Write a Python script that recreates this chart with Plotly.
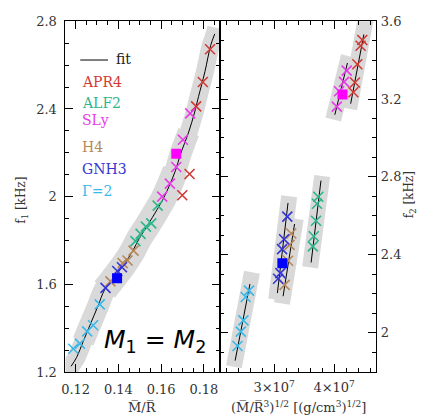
import plotly.graph_objects as go

# ---------------- data: left panel, f1 vs compactness M/R ----------------
eos_names = ["APR4", "ALF2", "SLy", "H4", "GNH3", "Γ=2"]
eos_colors = ["#d23a36", "#2fb58c", "#e83be8", "#b8875a", "#3535d6", "#3ab8e8"]

c_APR4 = [0.1829, 0.1795, 0.1764, 0.1733, 0.1699]
f1_APR4 = [2.672, 2.523, 2.412, 2.104, 2.007]
c_ALF2 = [0.1584, 0.1554, 0.1529, 0.1504, 0.1480]
f1_ALF2 = [1.960, 1.879, 1.864, 1.831, 1.798]
c_SLy = [0.1736, 0.1702, 0.1671, 0.1641, 0.1605]
f1_SLy = [2.380, 2.260, 2.136, 2.060, 2.001]
c_H4 = [0.1471, 0.1443, 0.1420, 0.1363]
f1_H4 = [1.755, 1.710, 1.698, 1.615]
c_GNH3 = [0.1417, 0.1395, 0.1340]
f1_GNH3 = [1.679, 1.662, 1.585]
c_G2 = [0.1313, 0.1282, 0.1254, 0.1220, 0.1189]
f1_G2 = [1.510, 1.415, 1.387, 1.331, 1.308]

# unequal-mass (square) points
c_sq = [0.1671, 0.1394]
f1_sq = [2.196, 1.629]
sq_colors = ["#ff00ff", "#0000ff"]

# universal fit f1(M/R)
fit_c = [0.1179, 0.1205, 0.1236, 0.1267, 0.1305, 0.1336, 0.1389, 0.1428,
         0.1467, 0.1498, 0.1536, 0.1582, 0.1608, 0.1636, 0.1667, 0.1690,
         0.1729, 0.1756, 0.1775, 0.1805, 0.1832, 0.1851]
fit_f1 = [1.228, 1.269, 1.342, 1.415, 1.503, 1.577, 1.643, 1.694,
          1.753, 1.811, 1.869, 1.943, 1.987, 2.045, 2.119, 2.192,
          2.295, 2.382, 2.456, 2.570, 2.690, 2.742]
# grey uncertainty band following the fit (wider through the middle)
band_c = [0.1160] + fit_c + [0.1858]
band_f1 = [1.180] + fit_f1 + [2.770]
band_mid_c = fit_c[2:17]
band_mid_f1 = fit_f1[2:17]
band_core_c = fit_c[5:15]
band_core_f1 = fit_f1[5:15]

# ---------------- data: right panel, f2 vs sqrt(M/R^3) ----------------
rho_APR4 = [4.469e7, 4.440e7, 4.386e7, 4.346e7, 4.320e7]
f2_APR4 = [3.503, 3.474, 3.379, 3.285, 3.235]
rho_ALF2 = [3.736e7, 3.714e7, 3.698e7, 3.660e7, 3.644e7]
f2_ALF2 = [2.698, 2.662, 2.575, 2.495, 2.443]
rho_SLy = [4.209e7, 4.165e7, 4.082e7, 4.044e7]
f2_SLy = [3.346, 3.288, 3.240, 3.161]
rho_H4 = [3.285e7, 3.257e7, 3.231e7, 3.175e7]
f2_H4 = [2.509, 2.451, 2.369, 2.245]
rho_GNH3 = [3.219e7, 3.165e7, 3.132e7, 3.104e7, 3.066e7]
f2_GNH3 = [2.596, 2.480, 2.429, 2.306, 2.277]
rho_G2 = [2.581e7, 2.526e7, 2.488e7, 2.444e7, 2.390e7]
f2_G2 = [2.216, 2.183, 2.063, 2.005, 1.931]

rho_sq = [4.139e7, 3.137e7]
f2_sq = [3.223, 2.357]

# per-EOS linear fits (end points) and their bands
line_rho = {"APR4": [4.275e7, 4.495e7], "ALF2": [3.616e7, 3.780e7],
            "SLy": [4.011e7, 4.221e7], "H4": [3.149e7, 3.340e7],
            "GNH3": [3.054e7, 3.231e7], "Γ=2": [2.350e7, 2.597e7]}
line_f2 = {"APR4": [3.176, 3.532], "ALF2": [2.360, 2.781],
           "SLy": [3.119, 3.385], "H4": [2.187, 2.558],
           "GNH3": [2.203, 2.666], "Γ=2": [1.856, 2.250]}
band_rho = {"APR4": [4.250e7, 4.530e7], "ALF2": [3.600e7, 3.800e7],
            "SLy": [3.985e7, 4.245e7], "H4": [3.130e7, 3.360e7],
            "GNH3": [3.035e7, 3.250e7], "Γ=2": [2.330e7, 2.630e7]}
band_f2 = {"APR4": [3.150, 3.620], "ALF2": [2.335, 2.805],
           "SLy": [3.095, 3.420], "H4": [2.150, 2.585],
           "GNH3": [2.170, 2.700], "Γ=2": [1.825, 2.310]}

x_ticks_left = [0.12, 0.14, 0.16, 0.18]
x_ticks_right = [3e7, 4e7]
x_ticktext_right = ["3×10<sup>7</sup>", "4×10<sup>7</sup>"]

left_sets = [(c_APR4, f1_APR4), (c_ALF2, f1_ALF2), (c_SLy, f1_SLy),
             (c_H4, f1_H4), (c_GNH3, f1_GNH3), (c_G2, f1_G2)]
right_sets = [(rho_APR4, f2_APR4), (rho_ALF2, f2_ALF2), (rho_SLy, f2_SLy),
              (rho_H4, f2_H4), (rho_GNH3, f2_GNH3), (rho_G2, f2_G2)]

W, H = 426, 419
BAND = "#d9d9d9"
SERIF = "DejaVu Serif"

fig = go.Figure()

# left panel: band (layered widths), fit, points
for bx, by, bw in [(band_c, band_f1, 18), (band_mid_c, band_mid_f1, 22),
                   (band_core_c, band_core_f1, 26)]:
    fig.add_trace(go.Scatter(x=bx, y=by, mode="lines", line_shape="spline",
                             line=dict(color=BAND, width=bw), hoverinfo="skip",
                             xaxis="x", yaxis="y", showlegend=False))
fig.add_trace(go.Scatter(x=fit_c, y=fit_f1, mode="lines", line_shape="spline",
                         line=dict(color="black", width=1),
                         xaxis="x", yaxis="y", showlegend=False))
for (xs, ys), col in zip(left_sets, eos_colors):
    fig.add_trace(go.Scatter(x=xs, y=ys, mode="markers",
                             marker=dict(symbol="x-thin", size=10,
                                         line=dict(color=col, width=1.6)),
                             xaxis="x", yaxis="y", showlegend=False))
fig.add_trace(go.Scatter(x=c_sq, y=f1_sq, mode="markers",
                         marker=dict(symbol="square", size=10, color=sq_colors),
                         xaxis="x", yaxis="y", showlegend=False))

# right panel: bands, fits, points
for name in eos_names:
    fig.add_trace(go.Scatter(x=band_rho[name], y=band_f2[name], mode="lines",
                             line=dict(color=BAND, width=16), hoverinfo="skip",
                             xaxis="x2", yaxis="y2", showlegend=False))
for name in eos_names:
    fig.add_trace(go.Scatter(x=line_rho[name], y=line_f2[name], mode="lines",
                             line=dict(color="black", width=1),
                             xaxis="x2", yaxis="y2", showlegend=False))
for (xs, ys), col in zip(right_sets, eos_colors):
    fig.add_trace(go.Scatter(x=xs, y=ys, mode="markers",
                             marker=dict(symbol="x-thin", size=10,
                                         line=dict(color=col, width=1.6)),
                             xaxis="x2", yaxis="y2", showlegend=False))
fig.add_trace(go.Scatter(x=rho_sq, y=f2_sq, mode="markers",
                         marker=dict(symbol="square", size=10, color=sq_colors),
                         xaxis="x2", yaxis="y2", showlegend=False))

tickfont = dict(family=SERIF, size=13, color="#333333")
common = dict(showgrid=False, zeroline=False, showline=True, linecolor="black",
              linewidth=1, mirror="allticks", ticks="inside", ticklen=8,
              tickcolor="black", tickwidth=1, tickfont=tickfont)

def px_x(p):
    return p / W

def px_y(p):
    return 1 - p / H

fig.update_layout(
    width=W, height=H, autosize=False,
    margin=dict(l=0, r=0, t=0, b=0),
    paper_bgcolor="white", plot_bgcolor="white",
    xaxis=dict(domain=[62 / W, 218 / W], range=[0.11524, 0.18753],
               tickvals=x_ticks_left, tickformat=".2f", ticklabelstandoff=5,
               minor=dict(dtick=0.005, tick0=0, ticks="inside", ticklen=4,
                          tickcolor="black", showgrid=False),
               anchor="y", **common),
    yaxis=dict(domain=[1 - 379 / H, 1 - 14.7 / H], range=[1.2, 2.8],
               tick0=1.2, dtick=0.4, tickformat="~g", ticklabelstandoff=5,
               minor=dict(dtick=0.1, tick0=1.2, ticks="inside", ticklen=4,
                          tickcolor="black", showgrid=False),
               anchor="x", **common),
    xaxis2=dict(domain=[218 / W, 375.7 / W], range=[2.097e7, 4.70e7],
                tickvals=x_ticks_right, ticktext=x_ticktext_right,
                ticklabelstandoff=3,
                minor=dict(dtick=2e6, tick0=0, ticks="inside", ticklen=4,
                           tickcolor="black", showgrid=False),
                anchor="y2", **common),
    yaxis2=dict(domain=[1 - 379 / H, 1 - 14.7 / H], range=[1.7955, 3.6],
                tick0=2.0, dtick=0.4, tickformat="~g", side="right",
                ticklabelstandoff=1,
                minor=dict(dtick=0.1, tick0=2.0, ticks="inside", ticklen=4,
                           tickcolor="black", showgrid=False),
                anchor="x2", **common),
)

ann = []
# legend
legend_y = [77.3, 99.3, 117.7, 145.7, 168.3, 191.0]
for name, col, py in zip(eos_names, eos_colors, legend_y):
    ann.append(dict(x=px_x(77), y=px_y(py), xref="paper", yref="paper",
                    text=name, showarrow=False, xanchor="left", yanchor="middle",
                    font=dict(family=SERIF, size=14, color=col)))
ann.append(dict(x=px_x(111), y=px_y(54), xref="paper", yref="paper",
                text="fit", showarrow=False, xanchor="left", yanchor="middle",
                font=dict(family=SERIF, size=14, color="#222222")))
# axis titles
ann.append(dict(x=px_x(18), y=px_y(200), xref="paper", yref="paper",
                text="f<sub>1</sub> [kHz]", showarrow=False, textangle=-90,
                xanchor="center", yanchor="middle",
                font=dict(family=SERIF, size=12, color="#333333")))
ann.append(dict(x=px_x(410), y=px_y(195), xref="paper", yref="paper",
                text="f<sub>2</sub> [kHz]", showarrow=False, textangle=-90,
                xanchor="center", yanchor="middle",
                font=dict(family=SERIF, size=12, color="#333333")))
ann.append(dict(x=px_x(140), y=px_y(415), xref="paper", yref="paper",
                text="M\u0305/R\u0305", showarrow=False,
                xanchor="center", yanchor="middle",
                font=dict(family=SERIF, size=13, color="#333333")))
ann.append(dict(x=px_x(297), y=px_y(415), xref="paper", yref="paper",
                text="(M\u0305/R\u0305<sup>3</sup>)<sup>1/2</sup> [(g/cm<sup>3</sup>)<sup>1/2</sup>]",
                showarrow=False, xanchor="center", yanchor="middle",
                font=dict(family=SERIF, size=13, color="#333333")))
# panel label
ann.append(dict(x=px_x(99), y=px_y(346), xref="paper", yref="paper",
                text="<i>M</i><sub>1</sub> = <i>M</i><sub>2</sub>",
                showarrow=False, xanchor="left", yanchor="middle",
                font=dict(family="DejaVu Sans", size=25, color="black")))
fig.update_layout(annotations=ann)

fig.add_shape(type="line", xref="paper", yref="paper",
              x0=px_x(77), x1=px_x(105), y0=px_y(55), y1=px_y(55),
              line=dict(color="black", width=1))

fig.write_html("out.html")
